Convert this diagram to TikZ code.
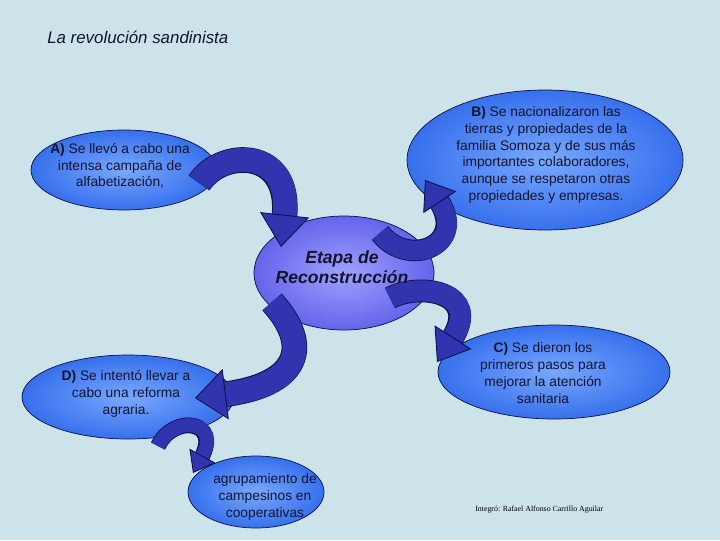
\documentclass[tikz,border=0pt]{standalone}
\usepackage{fontspec}
\setmainfont{Liberation Sans}
\newfontfamily\creditfont{Liberation Serif}
\usetikzlibrary{arrows.meta, calc, shapes.geometric}

\definecolor{fondo}{RGB}{204,227,234}
\definecolor{azulclaro}{RGB}{120,168,255}
\definecolor{azulborde}{RGB}{55,112,236}
\definecolor{lilaclaro}{RGB}{160,160,255}
\definecolor{lilaborde}{RGB}{100,100,235}
\definecolor{flechaazul}{RGB}{48,52,175}
\definecolor{contorno}{RGB}{15,15,70}
\definecolor{letra}{RGB}{20,20,45}

\newcommand\upx{0.025cm}

\tikzset{
  burbuja/.style={ellipse, draw=contorno, line width=0.5pt, inner color=azulclaro,
    outer color=azulborde, inner sep=0pt},
  texto/.style={align=center, text=letra, font=\fontsize{9.8}{11.9}\selectfont, inner sep=0pt},
  flecha/.style n args={3}{draw=flechaazul, line width=#1,
    -{Triangle[width=#2,length=#3,line width=0.6pt,color=contorno,fill=flechaazul]},
    preaction={draw=contorno, line width=#1+1.2pt, shorten >=#3-2pt, -}}
}

\begin{document}
\begin{tikzpicture}[x=\upx, y=-\upx]
\fill[fondo] (0,0) rectangle (720,540);
\useasboundingbox (0,0) rectangle (720,540);

\node[anchor=west, inner sep=0pt, text=letra, font=\itshape\fontsize{12}{14}\selectfont] (titulo) at (47,37) {La revolución sandinista};

% ellipses
\node[burbuja, minimum width=186*\upx, minimum height=80*\upx] (a) at (124,170) {};
\node[burbuja, minimum width=276*\upx, minimum height=140*\upx] (b) at (545,160) {};
\node[burbuja, minimum width=180*\upx, minimum height=114*\upx,
  inner color=lilaclaro, outer color=lilaborde] (etapa) at (344,273) {};
\node[burbuja, minimum width=232*\upx, minimum height=94*\upx] (c) at (554,372) {};
\node[burbuja, minimum width=212*\upx, minimum height=84*\upx] (d) at (128,397) {};
\node[burbuja, minimum width=136*\upx, minimum height=72*\upx] (coop) at (256,492) {};

% curved arrows
\draw[flecha={17pt}{35pt}{23pt}] ($(a)+(75,13)$) .. controls +(23,-35) and +(11,-99) .. ($(etapa)+(-63,-26)$);
\draw[flecha={14pt}{28pt}{19pt}] ($(etapa)+(36,-40)$) .. controls +(28,36) and +(43,65) .. ($(b)+(-120,20)$);
\draw[flecha={17pt}{36pt}{22pt}] ($(etapa)+(-72,29)$) .. controls +(40,44) and +(105,-13) .. ($(d)+(67,1)$);
\draw[flecha={15pt}{31pt}{21pt}] ($(etapa)+(46,25)$) .. controls +(30,-16) and +(45,-70) .. ($(c)+(-117,-10)$);
\draw[flecha={10pt}{21pt}{14pt}] ($(d)+(30,49)$) .. controls +(15,-32) and +(29,-53) .. ($(coop)+(-63,-19)$);

% texts
\node[texto] (ta) at (120,166) {\textbf{A)} Se llevó a cabo una\\intensa campaña de\\alfabetización,};
\node[texto] (tb) at (546,155) {\textbf{B)} Se nacionalizaron las\\tierras y propiedades de la\\familia Somoza y de sus más\\importantes colaboradores,\\aunque se respetaron otras\\propiedades y empresas.};
\node[texto, font=\bfseries\itshape\fontsize{12.5}{14.2}\selectfont] (te) at (342,267) {Etapa de\\Reconstrucción};
\node[texto] (tc) at (543,373) {\textbf{C)} Se dieron los\\primeros pasos para\\mejorar la atención\\sanitaria};
\node[texto] (td) at (126,394) {\textbf{D)} Se intentó llevar a\\cabo una reforma\\agraria.};
\node[texto] (tcoop) at (265,497) {agrupamiento de\\campesinos en\\cooperativas};

\node[anchor=west, inner sep=0pt, font=\creditfont\fontsize{5.6}{7}\selectfont] (credito) at (475,510) {Integró: Rafael Alfonso Carrillo Aguilar};
\end{tikzpicture}
\end{document}
